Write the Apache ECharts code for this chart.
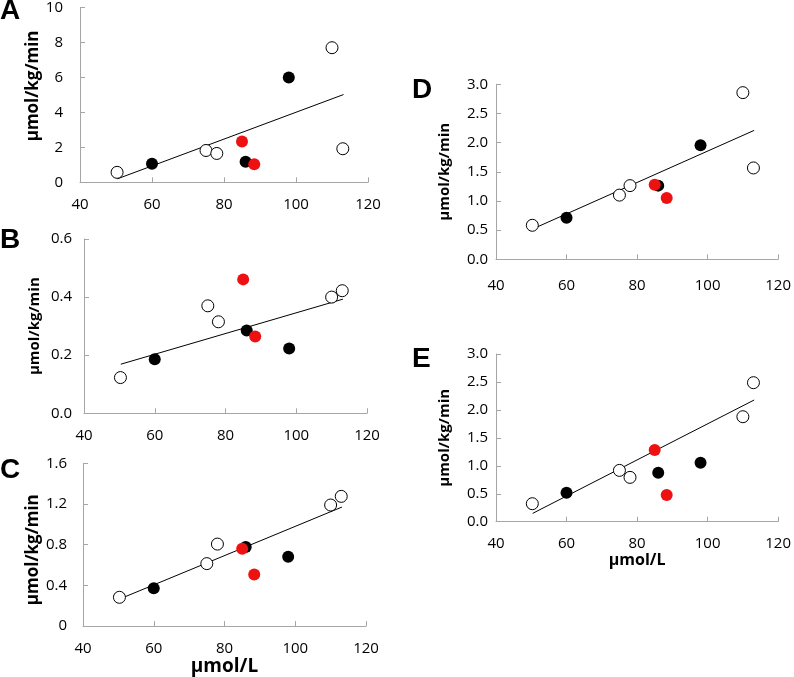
<!DOCTYPE html>
<html><head><meta charset="utf-8">
<script src="https://cdn.jsdelivr.net/npm/echarts@6/dist/echarts.min.js"></script>
<style>html,body{margin:0;padding:0;background:#fff}#c{width:794px;height:677px}</style>
</head><body><div id="c"></div>
<script>
// shared x positions (μmol/L)
const xOpen = [50.3, 75, 78, 110, 113];
const xBlack = [60, 86, 98];
const xRed = [85, 88.4];
const fitX = [50.4, 113.2];

// Panel A
const aOpen = [0.57, 1.82, 1.65, 7.7, 1.92];
const aBlack = [1.06, 1.18, 6.0];
const aRed = [2.33, 1.03];
const aFit = [0.2, 5.02];
// Panel B
const bOpen = [0.123, 0.37, 0.315, 0.40, 0.422];
const bBlack = [0.186, 0.285, 0.223];
const bRed = [0.461, 0.264];
const bFit = [0.169, 0.393];
// Panel C
const cOpen = [0.283, 0.614, 0.806, 1.19, 1.275];
const cBlack = [0.373, 0.777, 0.681];
const cRed = [0.761, 0.508];
const cFit = [0.267, 1.17];
// Panel D
const dOpen = [0.583, 1.10, 1.263, 2.857, 1.566];
const dBlack = [0.714, 1.263, 1.954];
const dRed = [1.28, 1.05];
const dFit = [0.52, 2.21];
// Panel E
const eOpen = [0.322, 0.918, 0.793, 1.878, 2.487];
const eBlack = [0.519, 0.877, 1.055];
const eRed = [1.282, 0.477];
const eFit = [0.149, 2.177];

const panelLetters = ['A', 'B', 'C', 'D', 'E'];
const xTicks = {min: 40, max: 120, interval: 20};
const yRanges = [
  {min: 0, max: 10, interval: 2},
  {min: 0, max: 0.6, interval: 0.2},
  {min: 0, max: 1.6, interval: 0.4},
  {min: 0, max: 3, interval: 0.5},
  {min: 0, max: 3, interval: 0.5}
];
const yName = 'μmol/kg/min';
const xName = 'μmol/L';

const panels = [
  {open: aOpen, black: aBlack, red: aRed, fit: aFit},
  {open: bOpen, black: bBlack, red: bRed, fit: bFit},
  {open: cOpen, black: cBlack, red: cRed, fit: cFit},
  {open: dOpen, black: dBlack, red: dRed, fit: dFit},
  {open: eOpen, black: eBlack, red: eRed, fit: eFit}
];

// layout
const grids = [
  {left: 80, top: 7, width: 288, height: 175.3},
  {left: 84, top: 239, width: 283, height: 174.3},
  {left: 83, top: 463.3, width: 283, height: 166},
  {left: 496, top: 84.3, width: 283, height: 175},
  {left: 496, top: 354, width: 283, height: 167.7}
];
const yNameGap = [37, 42, 41, 44, 44];
const yNameSize = [17, 15, 17, 15, 15];
const yNamePad = [[0,0,0,18],[0,0,0,0],[0,10,0,0],[0,0,0,0],[0,0,0,0]];
const yLabelMargin = [17, 12, 16, 8, 8];
const xLabelMargin = [15, 15, 15, 19, 15];
const showXName = [false, false, true, false, true];
const xNameGap = [0, 0, 28, 0, 30];
const xNameSize = [0, 0, 19, 0, 16];
const letterPos = [[0, 13], [0, 242.5], [0, 472.5], [412, 92.5], [412, 361]];

const FONT = '"Open Sans", "Liberation Sans", sans-serif';
const axisColor = '#a6a6a6';

function fmtY(i, v) {
  if (i === 0) return String(v);
  if (i === 2 && v === 0) return '0';
  return v.toFixed(1);
}
function pts(xs, ys) { return xs.map((x, k) => [x, ys[k]]); }

const option = {
  animation: false,
  backgroundColor: '#fff',
  grid: grids.map(g => Object.assign({containLabel: false}, g)),
  xAxis: grids.map((g, i) => ({
    type: 'value', gridIndex: i,
    min: xTicks.min, max: xTicks.max, interval: xTicks.interval,
    axisLine: {show: true, lineStyle: {color: axisColor, width: 1}},
    axisTick: {show: true, inside: true, length: 5, lineStyle: {color: axisColor}},
    splitLine: {show: false},
    axisLabel: {color: '#000', fontSize: 15, fontFamily: FONT, margin: xLabelMargin[i]},
    name: showXName[i] ? xName : '',
    nameLocation: 'middle', nameGap: xNameGap[i],
    nameTextStyle: {color: '#000', fontWeight: 'bold', fontSize: xNameSize[i] || 12, fontFamily: FONT}
  })),
  yAxis: grids.map((g, i) => ({
    type: 'value', gridIndex: i,
    min: yRanges[i].min, max: yRanges[i].max, interval: yRanges[i].interval,
    axisLine: {show: true, lineStyle: {color: axisColor, width: 1}},
    axisTick: {show: true, inside: true, length: 5, lineStyle: {color: axisColor}},
    splitLine: {show: false},
    axisLabel: {color: '#000', fontSize: 15, fontFamily: FONT, margin: yLabelMargin[i],
      formatter: v => fmtY(i, v)},
    name: yName, nameLocation: 'middle', nameGap: yNameGap[i], nameRotate: 90,
    nameTextStyle: {color: '#000', fontWeight: 'bold', fontSize: yNameSize[i], fontFamily: FONT, padding: yNamePad[i]}
  })),
  series: [],
  graphic: panelLetters.map((t, i) => ({
    type: 'text', left: letterPos[i][0], top: letterPos[i][1] - 16,
    style: {text: t, fill: '#000', font: 'bold 28px "Liberation Sans", Arial, sans-serif'}
  }))
};

panels.forEach((p, i) => {
  option.series.push({
    type: 'line', xAxisIndex: i, yAxisIndex: i, data: pts(fitX, p.fit),
    symbol: 'none', lineStyle: {color: '#000', width: 1}, z: 1, silent: true
  });
  option.series.push({
    type: 'scatter', xAxisIndex: i, yAxisIndex: i, data: pts(xOpen, p.open),
    symbol: 'circle', symbolSize: 12,
    itemStyle: {color: '#fff', borderColor: '#000', borderWidth: 1, opacity: 1}, z: 2
  });
  option.series.push({
    type: 'scatter', xAxisIndex: i, yAxisIndex: i, data: pts(xBlack, p.black),
    symbol: 'circle', symbolSize: 12, itemStyle: {color: '#000', opacity: 1}, z: 3
  });
  option.series.push({
    type: 'scatter', xAxisIndex: i, yAxisIndex: i, data: pts(xRed, p.red),
    symbol: 'circle', symbolSize: 12, itemStyle: {color: '#ee1111', opacity: 1}, z: 4
  });
});

const chart = echarts.init(document.getElementById('c'), null, {renderer: 'canvas'});
chart.setOption(option);
</script>
</body></html>
